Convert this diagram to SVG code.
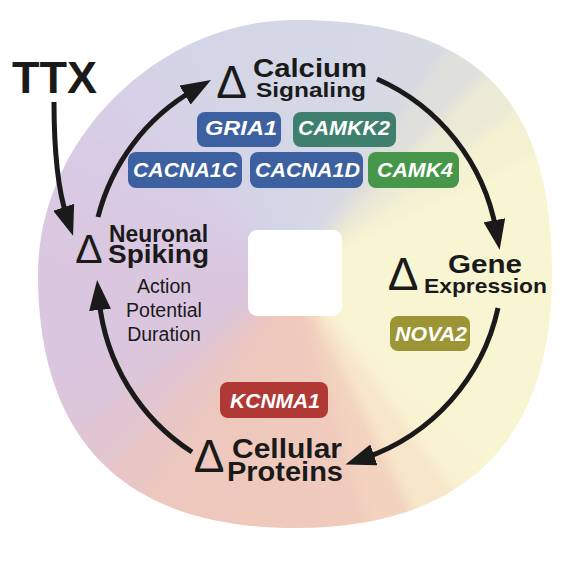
<svg xmlns="http://www.w3.org/2000/svg" width="580" height="561" viewBox="0 0 580 561">
<defs>
<style>
.t{font-family:"Liberation Sans",Arial,Helvetica,sans-serif;fill:#1a1a1a}
.bd{font-weight:bold}
.dl{font-weight:normal;text-anchor:middle}
.rg{font-weight:normal;font-size:19.5px;text-anchor:middle}
.pl rect{stroke:none}
.pl text{font-family:"Liberation Sans",Arial,Helvetica,sans-serif;font-weight:bold;font-style:italic;font-size:20px;fill:#ffffff}
.blue{fill:#3c60a0}
.teal{fill:#3e7f6e}
.green{fill:#47974b}
.olive{fill:#9c9535}
.red{fill:#b03935}
#connectors path{fill:none;stroke:#1a1a1a;stroke-width:5;marker-end:url(#ah)}
</style>
<path id="w" d="M0 0 L420 -44.2 L420 44.2 Z"/>
<clipPath id="shape"><path d="M295 20 C474.9 20 552 96.2 552 274 C552 441.6 464.6 528 295 528 C125.4 528 38 441.6 38 274 C38 139.4 158.8 20 295 20 Z"/></clipPath>
<filter id="bl" filterUnits="userSpaceOnUse" x="-100" y="-100" width="800" height="800"><feGaussianBlur stdDeviation="6"/></filter>
<marker id="ah" markerUnits="userSpaceOnUse" viewBox="0 0 30 22" markerWidth="30" markerHeight="22" refX="10" refY="11" orient="auto"><path d="M0 0 L30 11 L0 22 Z" fill="#1a1a1a"/></marker>
</defs>

<g id="background" clip-path="url(#shape)">
<g filter="url(#bl)">
<g transform="translate(295 272)">
<use href="#w" transform="rotate(0)" fill="#f8f5d2"/>
<use href="#w" transform="rotate(10)" fill="#f8f5d2"/>
<use href="#w" transform="rotate(20)" fill="#f8f5d2"/>
<use href="#w" transform="rotate(30)" fill="#f9f5d2"/>
<use href="#w" transform="rotate(40)" fill="#f9f5d2"/>
<use href="#w" transform="rotate(50)" fill="#f9f3d1"/>
<use href="#w" transform="rotate(60)" fill="#f7e6c9"/>
<use href="#w" transform="rotate(70)" fill="#f2d3bf"/>
<use href="#w" transform="rotate(80)" fill="#f0cabc"/>
<use href="#w" transform="rotate(90)" fill="#efc9bc"/>
<use href="#w" transform="rotate(100)" fill="#efc9bc"/>
<use href="#w" transform="rotate(110)" fill="#eec8bc"/>
<use href="#w" transform="rotate(120)" fill="#edc8be"/>
<use href="#w" transform="rotate(130)" fill="#e8c6c5"/>
<use href="#w" transform="rotate(140)" fill="#e1c6d1"/>
<use href="#w" transform="rotate(150)" fill="#dcc6db"/>
<use href="#w" transform="rotate(160)" fill="#dbc6df"/>
<use href="#w" transform="rotate(170)" fill="#dbc6df"/>
<use href="#w" transform="rotate(180)" fill="#dbc6df"/>
<use href="#w" transform="rotate(190)" fill="#dac7e0"/>
<use href="#w" transform="rotate(200)" fill="#d9c9e2"/>
<use href="#w" transform="rotate(210)" fill="#d8cbe3"/>
<use href="#w" transform="rotate(220)" fill="#d7cee5"/>
<use href="#w" transform="rotate(230)" fill="#d6d1e6"/>
<use href="#w" transform="rotate(240)" fill="#d5d3e6"/>
<use href="#w" transform="rotate(250)" fill="#d4d5e6"/>
<use href="#w" transform="rotate(260)" fill="#d4d6e6"/>
<use href="#w" transform="rotate(270)" fill="#d4d7e6"/>
<use href="#w" transform="rotate(280)" fill="#d4d7e6"/>
<use href="#w" transform="rotate(290)" fill="#d5d8e5"/>
<use href="#w" transform="rotate(300)" fill="#d7d9e3"/>
<use href="#w" transform="rotate(310)" fill="#dfdfdc"/>
<use href="#w" transform="rotate(320)" fill="#ebead5"/>
<use href="#w" transform="rotate(330)" fill="#f4f2d2"/>
<use href="#w" transform="rotate(340)" fill="#f8f5d2"/>
<use href="#w" transform="rotate(350)" fill="#f8f5d2"/>
</g>
</g>
<rect x="248" y="230" width="94" height="86" rx="9" fill="#ffffff"/>
</g>

<g id="connectors">
<path d="M54 102 C54 150 58 190 66.8 216.7"/>
<path d="M98 217 A205 205 0 0 1 193.7 90.1"/>
<path d="M377 79 A205 205 0 0 1 496.1 230.1"/>
<path d="M498 308 A205 205 0 0 1 364.4 458.1"/>
<path d="M192 452 A205 205 0 0 1 99.1 300"/>
</g>

<g id="ttx">
<text class="t bd" x="12" y="93" font-size="44" textLength="85" lengthAdjust="spacingAndGlyphs">TTX</text>
</g>

<g id="calcium-signaling">
<text class="t dl" x="231.5" y="98" font-size="46">Δ</text>
<text class="t bd" x="253" y="77" font-size="26.5" textLength="114" lengthAdjust="spacingAndGlyphs">Calcium</text>
<text class="t bd" x="256" y="97" font-size="21" textLength="110" lengthAdjust="spacingAndGlyphs">Signaling</text>
</g>

<g id="gria1" class="pl"><rect class="blue" x="197" y="112" width="84" height="35" rx="8"/><text x="205" y="135" textLength="72" lengthAdjust="spacingAndGlyphs">GRIA1</text></g>
<g id="camkk2" class="pl"><rect class="teal" x="293" y="112" width="103" height="35" rx="8"/><text x="298" y="135" textLength="92" lengthAdjust="spacingAndGlyphs">CAMKK2</text></g>
<g id="cacna1c" class="pl"><rect class="blue" x="128" y="152" width="114" height="36" rx="8"/><text x="133" y="177" textLength="104" lengthAdjust="spacingAndGlyphs">CACNA1C</text></g>
<g id="cacna1d" class="pl"><rect class="blue" x="250" y="152" width="113" height="36" rx="8"/><text x="255" y="177" textLength="105" lengthAdjust="spacingAndGlyphs">CACNA1D</text></g>
<g id="camk4" class="pl"><rect class="green" x="368" y="152" width="91" height="36" rx="8"/><text x="377" y="177" textLength="76" lengthAdjust="spacingAndGlyphs">CAMK4</text></g>

<g id="gene-expression">
<text class="t dl" x="403" y="290" font-size="46">Δ</text>
<text class="t bd" x="448" y="273" font-size="26" textLength="74" lengthAdjust="spacingAndGlyphs">Gene</text>
<text class="t bd" x="424" y="293" font-size="21" textLength="123" lengthAdjust="spacingAndGlyphs">Expression</text>
</g>

<g id="nova2" class="pl"><rect class="olive" x="390" y="316" width="80" height="35" rx="8"/><text x="395" y="341" textLength="72" lengthAdjust="spacingAndGlyphs">NOVA2</text></g>

<g id="kcnma1" class="pl"><rect class="red" x="220" y="382" width="108" height="36" rx="8"/><text x="230" y="408" textLength="90" lengthAdjust="spacingAndGlyphs">KCNMA1</text></g>

<g id="cellular-proteins">
<text class="t dl" x="209" y="472" font-size="46">Δ</text>
<text class="t bd" x="232" y="458" font-size="27" textLength="110" lengthAdjust="spacingAndGlyphs">Cellular</text>
<text class="t bd" x="227" y="481" font-size="27" textLength="116" lengthAdjust="spacingAndGlyphs">Proteins</text>
</g>

<g id="neuronal-spiking">
<text class="t dl" x="89" y="263" font-size="41">Δ</text>
<text class="t bd" x="109" y="242" font-size="23" textLength="99" lengthAdjust="spacingAndGlyphs">Neuronal</text>
<text class="t bd" x="108" y="263" font-size="26" textLength="101" lengthAdjust="spacingAndGlyphs">Spiking</text>
<text class="t rg" x="164" y="293">Action</text>
<text class="t rg" x="164" y="317">Potential</text>
<text class="t rg" x="164" y="341">Duration</text>
</g>
</svg>
